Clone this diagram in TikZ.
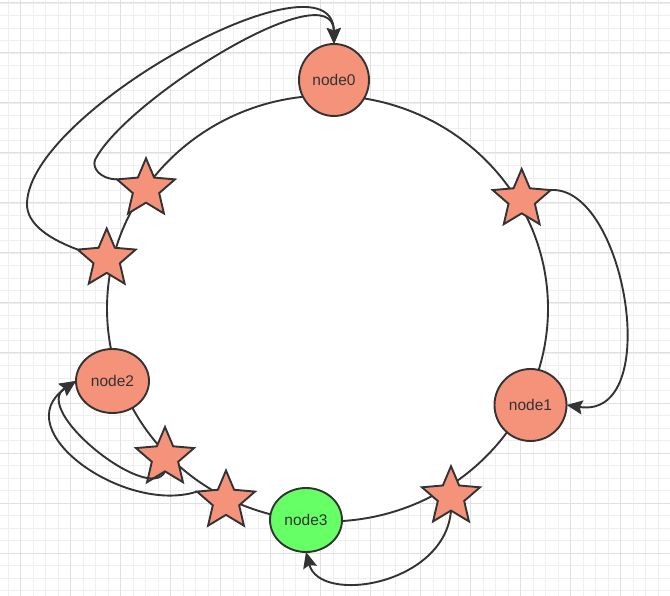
\documentclass[tikz,border=0pt]{standalone}
\usepackage{fontspec}
\setmainfont{Liberation Sans}
\usetikzlibrary{shapes.geometric,arrows.meta}
\definecolor{ink}{RGB}{51,51,51}
\definecolor{peersalmon}{RGB}{244,146,122}
\definecolor{peergreen}{RGB}{102,255,102}
\definecolor{gridminor}{RGB}{238,238,238}
\definecolor{gridmajor}{RGB}{224,224,224}
\tikzset{
  ring/.style={draw=ink, fill=white, line width=1.9pt},
  peer/.style={ellipse, draw=ink, line width=1.9pt, fill=peersalmon, text=ink,
    font=\fontsize{15.5}{18}\selectfont, inner sep=0pt, outer sep=0pt},
  vpeer/.style={star, star points=5, star point ratio=2.2, draw=ink, line width=1.9pt,
    fill=peersalmon, minimum size=61pt, inner sep=0pt, outer sep=0pt},
  link/.style={draw=ink, line width=1.9pt, -{Stealth[length=16pt,width=14pt,inset=2.5pt]}},
  minorline/.style={draw=gridminor, line width=0.8pt},
  majorline/.style={draw=gridmajor, line width=1pt},
}
\begin{document}
\begin{tikzpicture}[x=1pt, y=-1pt]
  \useasboundingbox (0,0) rectangle (670,596);
  \fill[white] (0,0) rectangle (670,596);

  % background grid
  \foreach \i in {0,...,53} \draw[minorline] ({8.2+12.5*\i},0) -- ++(0,596);
  \foreach \j in {0,...,47} \draw[minorline] (0,{3+12.5*\j}) -- ++(670,0);
  \foreach \i in {0,...,12} \draw[majorline] ({20.7+50*\i},0) -- ++(0,596);
  \foreach \j in {0,...,11} \draw[majorline] (0,{3+50*\j}) -- ++(670,0);

  % hash ring
  \draw[ring] (327.5,308.5) ellipse [x radius=220.5, y radius=213];

  % virtual nodes on the ring
  \node[vpeer] (sa) at (521.7,199.5) {};
  \node[vpeer] (sb) at (146,188.8) {};
  \node[vpeer] (sc) at (106.7,259) {};
  \node[vpeer] (sd) at (165,457.5) {};
  \node[vpeer] (se) at (226,501) {};
  \node[vpeer] (sf) at (451,496.7) {};

  % physical nodes
  \node[peer, minimum width=70pt, minimum height=72pt] (n0) at (334,80) {node0};
  \node[peer, minimum width=72pt, minimum height=72pt] (n1) at (530.5,405) {node1};
  \node[peer, minimum width=73pt, minimum height=64pt] (n2) at (112.5,381) {node2};
  \node[peer, minimum width=72pt, minimum height=64pt, fill=peergreen] (n3) at (306,520) {node3};

  % virtual node -> physical node mappings
  \draw[link] (sa.18) .. controls (625,185) and (665,420) .. (n1.east);
  \draw[link] (sf.270) .. controls (445,585) and (320,605) .. (n3.south);
  \draw[link] (sd.270) .. controls (150,505) and (30,410) .. (n2.west);
  \draw[link] (se.162) .. controls (125,515) and (5,430) .. (n2.west);
  \draw[link] (sc.162) .. controls (52,240) and (26,225) .. (27,203)
                       .. controls (30,110) and (333,-55) .. (n0.north);
  \draw[link] (sb.162) .. controls (100,179) and (92,168) .. (95,160)
                       .. controls (125,100) and (333,-30) .. (n0.north);
\end{tikzpicture}
\end{document}
